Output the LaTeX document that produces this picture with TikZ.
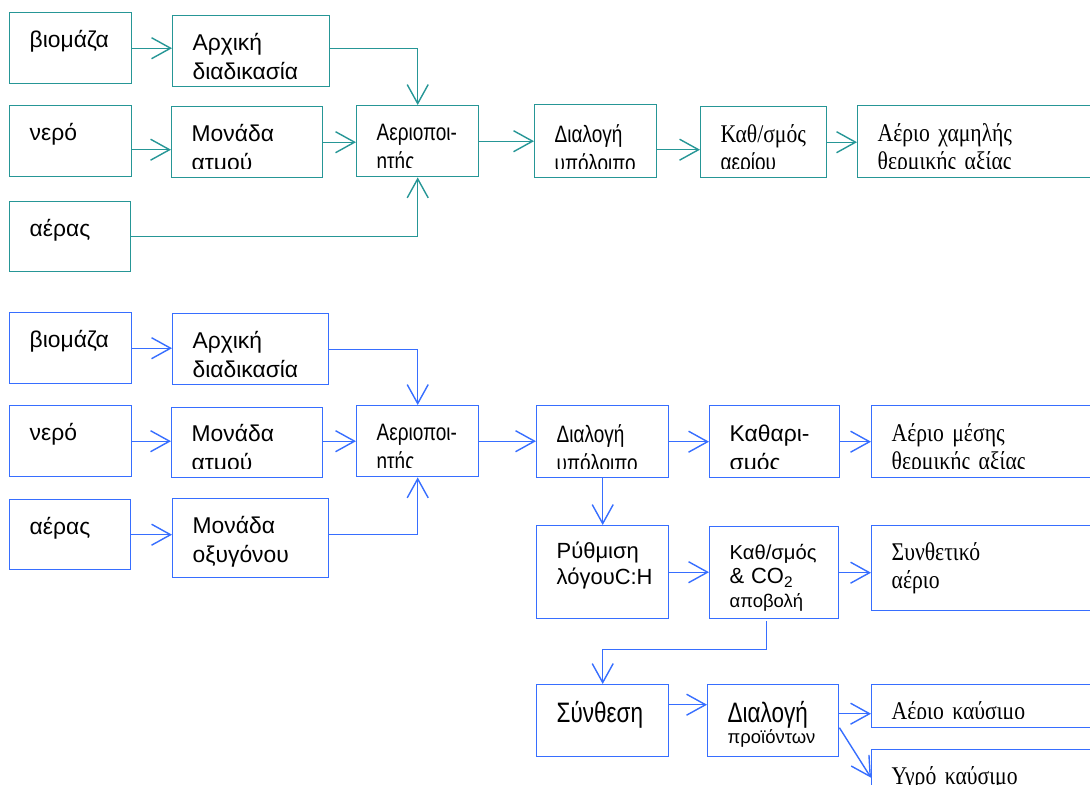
\documentclass[tikz,border=0pt]{standalone}
\usepackage{fontspec}
\setmainfont{Liberation Sans}
\newfontfamily\narrowf[FakeStretch=0.8]{Liberation Sans}
\newfontfamily\seriff[FakeStretch=0.85]{Liberation Serif}
\usetikzlibrary{arrows.meta}
\definecolor{tealc}{RGB}{38,150,150}
\definecolor{bluec}{RGB}{55,110,255}

\begin{document}
\begin{tikzpicture}[x=0.02cm, y=-0.02cm,
  box/.code n args={3}{%
    \pgfmathsetlengthmacro\bxw{#1*0.02cm-0.8cm}%
    \pgfmathsetlengthmacro\bxh{#3*0.02cm}%
    \pgfmathsetlengthmacro\bxd{(#2-#3)*0.02cm}%
    \pgfkeysalso{draw=lc, line width=0.8pt, anchor=north west, inner xsep=0.4cm, inner ysep=0pt,
      align=left, font=\fontsize{13}{16.4}\selectfont,
      text width/.expanded=\bxw, text height/.expanded=\bxh, text depth/.expanded=\bxd}},
  arr/.style={draw=lc, line width=0.8pt, -{Straight Barb[length=0.38cm,width=0.42cm]}},
  narrow/.style={font=\narrowf\fontsize{13.5}{16.4}\selectfont},
  serif/.style={font=\seriff\fontsize{14.5}{16}\selectfont}]
\useasboundingbox (0,0) rectangle (1090,785);

% Πρώτο σχήμα: αέρας
\begin{scope}
\colorlet{lc}{tealc}
\node[box={122}{71}{35}] (bio1) at (9,12) {βιομάζα};
\node[box={157}{71}{35}] (arx1) at (172,15) {Αρχική\\διαδικασία};
\node[box={122}{71}{35}] (nero1) at (9,105) {νερό};
\node[box={151}{71}{35}] (atm1) at (171,106) {Μονάδα\\ατμού};
\node[box={121}{70}{35}] (aer1) at (9,201) {αέρας};
\node[box={122}{71}{35}, narrow] (gas1) at (356,105) {Αεριοποι-\\ητής};
\node[box={122}{73}{38}, narrow] (dia1) at (534,104) {Διαλογή\\υπόλοιπο};
\node[box={126}{71}{36}, serif] (kth1) at (700,106) {Καθ/σμός\\{\narrowf\fontsize{13.5}{16.4}\selectfont αερίου}};
\node[box={250}{72}{36}, serif] (low1) at (857,105) {Αέριο χαμηλής\\θερμικής αξίας};
% κομμένα κείμενα
\foreach \b in {atm1,gas1,dia1,kth1,low1}
  \fill[white] ([shift={(1.3pt,1.3pt)}]\b.south west) rectangle ([shift={(-1.3pt,0.18cm)}]\b.south east);
% Συνδέσεις
\draw[arr] (bio1.east) -- (bio1.east -| arx1.west);
\draw[arr] (arx1.east |- bio1.east) -| (gas1.north);
\coordinate (n1) at ([yshift=-0.17cm]nero1.east);
\draw[arr] (n1) -- (n1 -| atm1.west);
\draw[arr] (atm1.east) -- (atm1.east -| gas1.west);
\draw[arr] (aer1.east) -| (gas1.south);
\draw[arr] (gas1.east) -- (gas1.east -| dia1.west);
\coordinate (d1) at ([yshift=-0.17cm]dia1.east);
\draw[arr] (d1) -- (d1 -| kth1.west);
\draw[arr] (kth1.east) -- (kth1.east -| low1.west);
\end{scope}

% Δεύτερο σχήμα: οξυγόνο
\begin{scope}
\colorlet{lc}{bluec}
\node[box={122}{71}{35}] (bio2) at (9,312) {βιομάζα};
\node[box={156}{71}{35}] (arx2) at (172,313) {Αρχική\\διαδικασία};
\node[box={122}{71}{35}] (nero2) at (9,405) {νερό};
\node[box={151}{70}{34}] (atm2) at (171,407) {Μονάδα\\ατμού};
\node[box={121}{70}{35}] (aer2) at (9,499) {αέρας};
\node[box={156}{79}{35}] (oxy2) at (172,498) {Μονάδα\\οξυγόνου};
\node[box={122}{71}{35}, narrow] (gas2) at (356,405) {Αεριοποι-\\ητής};
\node[box={132}{72}{37}, narrow] (dia2) at (536,405) {Διαλογή\\υπόλοιπο};
\node[box={130}{72}{36}] (kat2) at (709,405) {Καθαρι-\\σμός};
\node[box={229}{72}{36}, serif] (mid2) at (871,405) {Αέριο μέσης\\θερμικής αξίας};
\node[box={132}{93}{33}, font=\fontsize{12.5}{14.7}\selectfont] (ryt2) at (536,525) {Ρύθμιση\\λόγουC:H};
\node[box={129}{92}{33}, font=\fontsize{11.5}{13.6}\selectfont] (co2) at (709,526)
  {Καθ/σμός\\{\fontsize{12.5}{13.6}\selectfont\&~CO\textsubscript{2}}\\{\fontsize{10.5}{13.6}\selectfont αποβολή}};
\node[box={229}{85}{35}, serif] (syn2) at (871,525) {Συνθετικό\\αέριο};
\node[box={132}{72}{38}, font=\narrowf\fontsize{16}{18}\selectfont] (sth2) at (536,684) {Σύνθεση};
\node[box={131}{72}{38}, font=\fontsize{10.5}{11.9}\selectfont] (prd2) at (707,684)
  {{\narrowf\fontsize{16}{18}\selectfont Διαλογή}\\προϊόντων};
\node[box={229}{43}{35}, serif] (fuel2) at (871,684) {Αέριο καύσιμο};
\node[box={229}{56}{35}, serif] (liq2) at (871,749) {Υγρό καύσιμο};
% κομμένα κείμενα
\foreach \b in {atm2,gas2,dia2,kat2,mid2,fuel2}
  \fill[white] ([shift={(1.3pt,1.3pt)}]\b.south west) rectangle ([shift={(-1.3pt,0.18cm)}]\b.south east);
% Συνδέσεις
\draw[arr] (bio2.east) -- (bio2.east -| arx2.west);
\draw[arr] (arx2.east) -| (gas2.north);
\draw[arr] (nero2.east) -- (nero2.east -| atm2.west);
\draw[arr] (atm2.east |- gas2.west) -- (gas2.west);
\draw[arr] (aer2.east) -- (aer2.east -| oxy2.west);
\draw[arr] (aer2.east -| oxy2.east) -| (gas2.south);
\draw[arr] (gas2.east) -- (gas2.east -| dia2.west);
\draw[arr] (dia2.east) -- (dia2.east -| kat2.west);
\draw[arr] (kat2.east) -- (kat2.east -| mid2.west);
\draw[arr] (dia2.south) -- (ryt2.north);
\draw[arr] (ryt2.east) -- (ryt2.east -| co2.west);
\draw[arr] (co2.east) -- (co2.east -| syn2.west);
\draw[arr] ([shift={(-0.15cm,-0.04cm)}]co2.south) -- ++(0,28) -| (sth2.north);
\coordinate (s2) at ([yshift=0.32cm]sth2.east);
\draw[arr] (s2) -- (s2 -| prd2.west);
\coordinate (p2) at ([yshift=0.14cm]prd2.east);
\draw[arr] (p2) -- (p2 -| fuel2.west);
\coordinate (p3) at ([yshift=-0.14cm]prd2.east);
\draw[arr] (p3) -- (liq2.west);
\end{scope}
\end{tikzpicture}
\end{document}
